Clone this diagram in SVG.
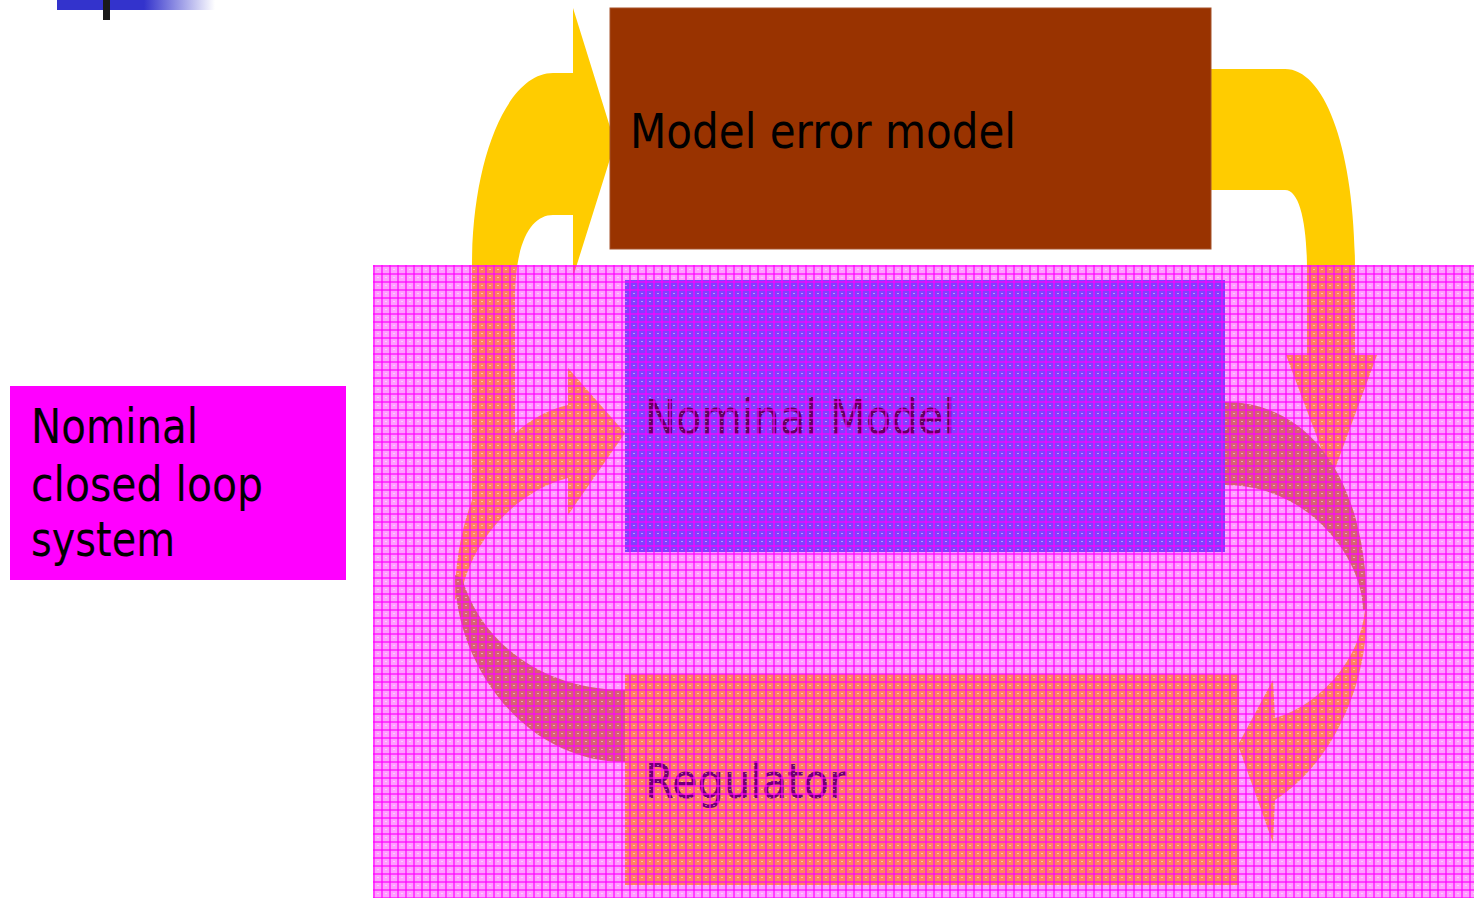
<svg xmlns="http://www.w3.org/2000/svg" width="1474" height="898" viewBox="0 0 1474 898">
  <style>
    .lbl { font-family: "DejaVu Sans", "Liberation Sans", sans-serif; font-size: 48px; }
    .light { fill: #ffd000; }
    .dark { fill: #c09a20; }
    .yellow { fill: #ffcc00; }
  </style>
  <defs>
    <linearGradient id="barFade" x1="0" y1="0" x2="1" y2="0">
      <stop offset="0" stop-color="#3333cc"/>
      <stop offset="0.55" stop-color="#3333cc"/>
      <stop offset="1" stop-color="#3333cc" stop-opacity="0"/>
    </linearGradient>
    <!-- translucent magenta mesh laid over the closed loop -->
    <pattern id="mesh" x="373" y="265" width="8" height="8" patternUnits="userSpaceOnUse">
      <rect width="8" height="8" fill="#ff00ff" fill-opacity="0.38"/>
      <rect width="8" height="2" fill="#ff00ff" fill-opacity="0.6"/>
      <rect width="2" height="8" fill="#ff00ff" fill-opacity="0.6"/>
      <rect x="4" y="4" width="2" height="1" fill="#ffffff" fill-opacity="0.45"/>
    </pattern>
  </defs>

  <rect width="1474" height="898" fill="#ffffff"/>

  <!-- title bar ornament -->
  <g id="title-bar">
    <rect x="57" y="0" width="158" height="10" fill="url(#barFade)"/>
    <rect x="103" y="0" width="7" height="20" fill="#1a1a1a"/>
  </g>

  <!-- boxes inside the loop -->
  <g id="nominal-model">
    <rect x="625" y="280" width="600" height="272" fill="#3366ff"/>
    <text class="lbl" x="645" y="434" fill="#000000" textLength="310" lengthAdjust="spacingAndGlyphs">Nominal Model</text>
  </g>
  <g id="regulator">
    <rect x="625" y="674" width="614" height="211" fill="#ffd000"/>
    <text class="lbl" x="645" y="798" fill="#1a001a" textLength="201" lengthAdjust="spacingAndGlyphs">Regulator</text>
  </g>

  <g id="connectors">
    <!-- into the model error model -->
    <path class="yellow" d="M472,500 L472,265 C472,160 507,73 553,73 L573,73 L573,8 L615,143 L573,277 L573,215 L553,215 C532,215 515,240 515,300 L515,500 Z"/>
    <!-- out of the model error model -->
    <path class="yellow" d="M1211,69 L1285,69 C1325,69 1355,150 1355,270 L1355,355 L1377,355 L1332,477 L1286,355 L1307,355 L1307,270 C1307,225 1300,190 1285,190 L1211,190 Z"/>
    <!-- regulator back to nominal model -->
    <path class="light" d="M455,600 C455,500 500,420 568,405 L568,368 L625,433 L568,515 L568,478 C520,490 475,535 462,590 Z"/>
    <path class="dark" d="M455,575 C455,665 525,762 625,762 L625,690 C540,690 480,640 462,578 Z"/>
    <!-- nominal model to regulator -->
    <path class="dark" d="M1225,402 C1310,402 1367,480 1367,610 L1363,610 C1363,560 1310,485 1225,485 Z"/>
    <path class="light" d="M1367,610 C1367,690 1330,765 1275,800 L1273,843 L1238,745 L1273,680 L1275,718 C1320,705 1360,660 1365,610 Z"/>
  </g>

  <!-- nominal closed loop region -->
  <g id="closed-loop-region">
    <rect x="373" y="265" width="1101" height="633" fill="url(#mesh)"/>
  </g>

  <g id="model-error-model">
    <rect x="610" y="8" width="601" height="241" fill="#993300" stroke="#a5522a" stroke-width="1"/>
    <text class="lbl" x="630" y="148" fill="#000000" textLength="386" lengthAdjust="spacingAndGlyphs">Model error model</text>
  </g>

  <g id="closed-loop-label">
    <rect x="10" y="386" width="336" height="194" fill="#ff00ff"/>
    <text class="lbl" x="31" y="443" fill="#000000" textLength="167" lengthAdjust="spacingAndGlyphs">Nominal</text>
    <text class="lbl" x="31" y="501" fill="#000000" textLength="232" lengthAdjust="spacingAndGlyphs">closed loop</text>
    <text class="lbl" x="31" y="556" fill="#000000" textLength="144" lengthAdjust="spacingAndGlyphs">system</text>
  </g>
</svg>
